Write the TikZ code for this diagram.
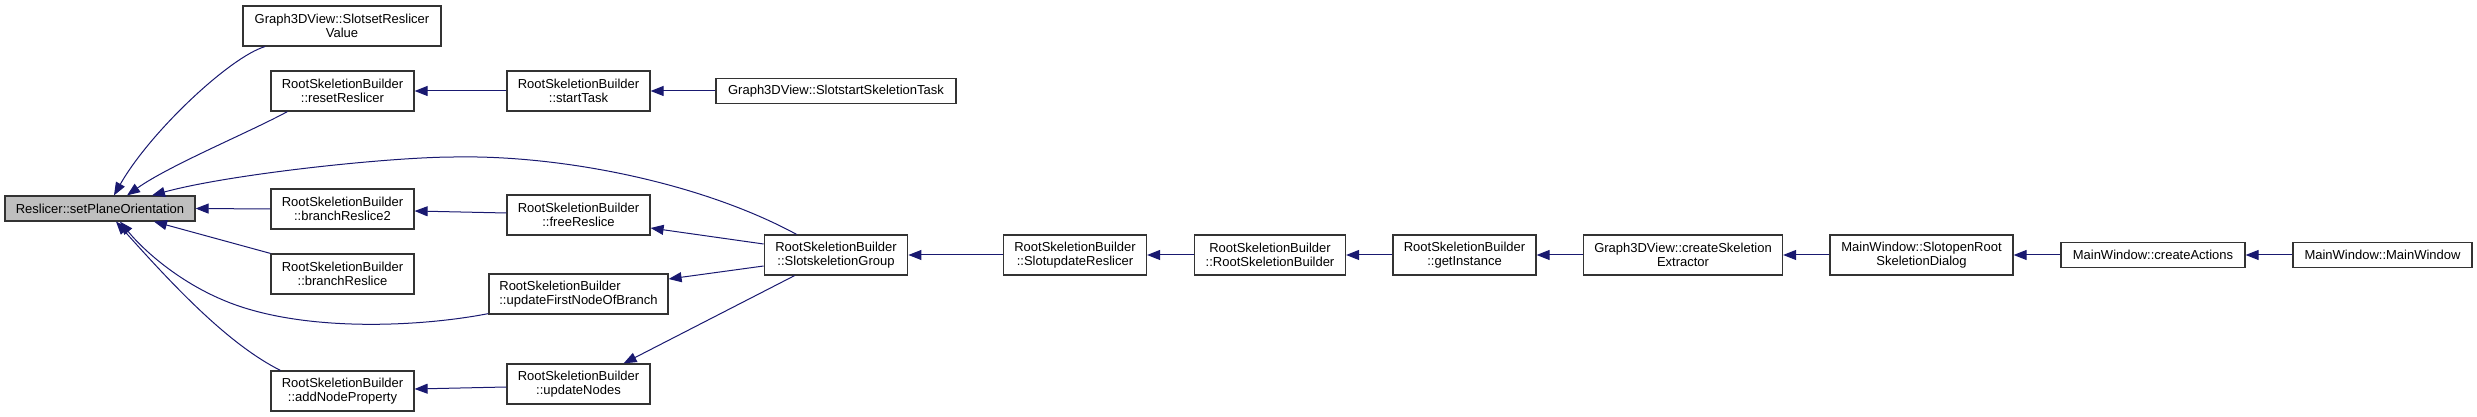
\documentclass[tikz,border=0pt]{standalone}
\usepackage{fontspec}
\setmainfont{Liberation Sans}
\usetikzlibrary{arrows.meta}
\definecolor{edgec}{HTML}{191970}
\definecolor{boxc}{HTML}{333333}
\definecolor{grayfill}{HTML}{BFBFBF}
\begin{document}
\begin{tikzpicture}[x=1pt,y=1pt,
  fn/.style={draw=boxc, line width=1.2pt, fill=white, inner sep=0pt, align=center,
    minimum height=40pt, font=\fontsize{13}{14.7}\selectfont},
  one/.style={minimum height=25pt},
  e/.style={draw=edgec, line width=1pt, -{Triangle[length=13pt,width=10pt]}}]
\useasboundingbox (0,0) rectangle (2477,417);
% nodes
\node[fn, one, fill=grayfill, minimum width=190pt] (R) at (100,208.5) {Reslicer::setPlaneOrientation};
\node[fn, minimum width=198pt] (SRV) at (342,391) {Graph3DView::SlotsetReslicer\\Value};
\node[fn, minimum width=143pt] (reset) at (342.5,326) {RootSkeletionBuilder\\::resetReslicer};
\node[fn, minimum width=143pt] (br2) at (342.5,208) {RootSkeletionBuilder\\::branchReslice2};
\node[fn, minimum width=143pt] (br) at (342.5,143) {RootSkeletionBuilder\\::branchReslice};
\node[fn, minimum width=143pt] (anp) at (342.5,26) {RootSkeletionBuilder\\::addNodeProperty};
\node[fn, minimum width=143pt] (st) at (578.5,326) {RootSkeletionBuilder\\::startTask};
\node[fn, minimum width=143pt] (free) at (578.5,202) {RootSkeletionBuilder\\::freeReslice};
\node[fn, minimum width=179pt, align=left] (ufn) at (578.5,123) {RootSkeletionBuilder\\::updateFirstNodeOfBranch};
\node[fn, minimum width=143pt] (un) at (578.5,33) {RootSkeletionBuilder\\::updateNodes};
\node[fn, one, minimum width=240pt] (sst) at (836,326) {Graph3DView::SlotstartSkeletionTask};
\node[fn, minimum width=143.6pt] (ssg) at (836,162) {RootSkeletionBuilder\\::SlotskeletionGroup};
\node[fn, minimum width=143pt] (sur) at (1075,162) {RootSkeletionBuilder\\::SlotupdateReslicer};
\node[fn, minimum width=151pt] (rsb) at (1270,162) {RootSkeletionBuilder\\::RootSkeletionBuilder};
\node[fn, minimum width=143pt] (gi) at (1464.5,162) {RootSkeletionBuilder\\::getInstance};
\node[fn, minimum width=199pt] (cse) at (1683,162) {Graph3DView::createSkeletion\\Extractor};
\node[fn, minimum width=183pt] (sord) at (1921.5,162) {MainWindow::SlotopenRoot\\SkeletionDialog};
\node[fn, one, minimum width=184pt] (ca) at (2153,162) {MainWindow::createActions};
\node[fn, one, minimum width=179pt] (mw) at (2382.5,162) {MainWindow::MainWindow};
% edges
\draw[e] ([xshift=22.6pt]SRV.south west) .. controls (230,360) and (150,285) .. ([xshift=14pt]R.north);
\draw[e] ([xshift=17pt]reset.south west) .. controls (250,285) and (170,252) .. ([xshift=27pt]R.north);
\draw[e] ([xshift=33pt]ssg.north west) .. controls (700,235) and (560,262) .. (455,260)
   .. controls (390,260) and (230,243) .. ([xshift=52pt]R.north);
\draw[e] (br2.west) -- (R.east);
\draw[e] (br.north west) -- ([xshift=54pt]R.south);
\draw[e] ([yshift=1pt]ufn.south west) .. controls (420,90) and (300,84) .. (223,117)
   .. controls (180,135) and (145,165) .. ([xshift=20pt]R.south);
\draw[e] ([xshift=10pt]anp.north west) .. controls (230,72) and (178,126) .. ([xshift=16pt]R.south);
\draw[e] (st.west) -- (reset.east);
\draw[e] (sst.west) -- (st.east);
\draw[e] ([yshift=2pt]free.west) -- ([yshift=-2pt]br2.east);
\draw[e] ([yshift=11pt]ssg.west) -- ([yshift=-13pt]free.east);
\draw[e] ([yshift=-11pt]ssg.west) -- ([yshift=15pt]ufn.east);
\draw[e] ([xshift=31pt]ssg.south west) -- ([xshift=-27pt]un.north east);
\draw[e] ([yshift=-3pt]un.west) -- ([yshift=2pt]anp.east);
\draw[e] (sur.west) -- (ssg.east);
\draw[e] (rsb.west) -- (sur.east);
\draw[e] (gi.west) -- (rsb.east);
\draw[e] (cse.west) -- (gi.east);
\draw[e] (sord.west) -- (cse.east);
\draw[e] (ca.west) -- (sord.east);
\draw[e] (mw.west) -- (ca.east);
\end{tikzpicture}
\end{document}
